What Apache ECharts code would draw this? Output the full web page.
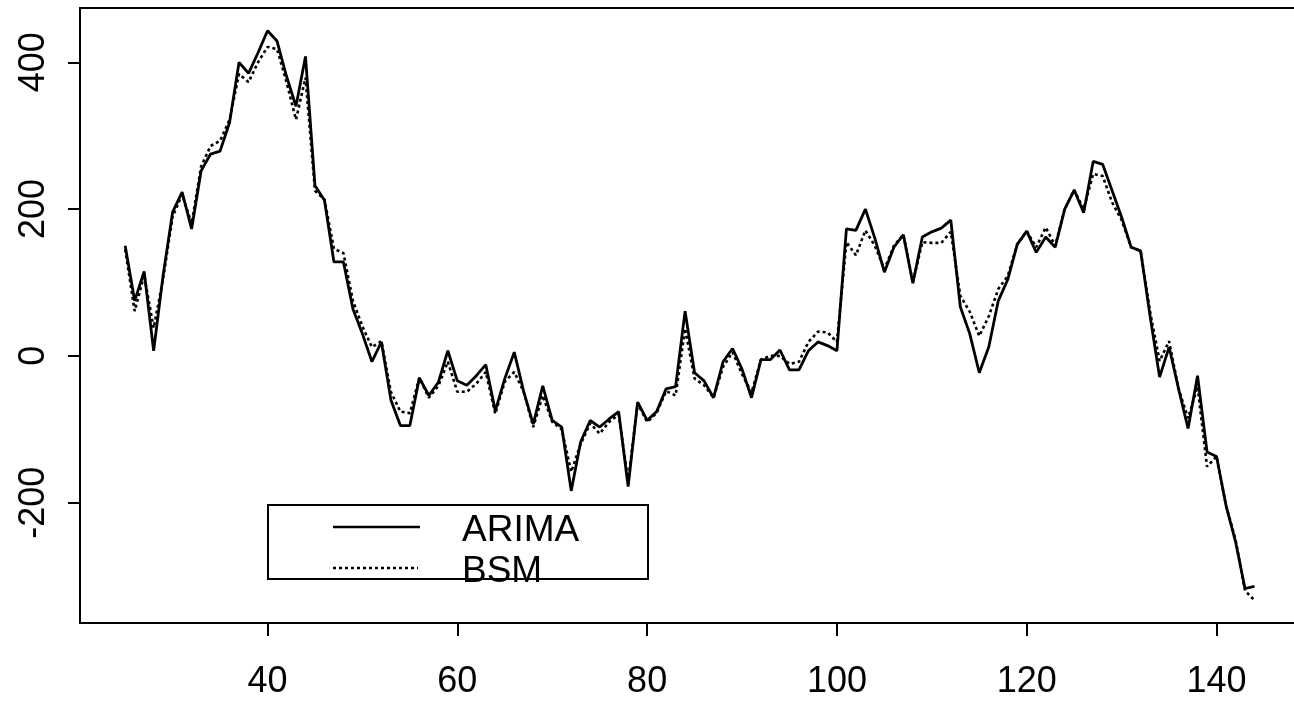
<!DOCTYPE html>
<html>
<head>
<meta charset="utf-8">
<script src="https://cdn.jsdelivr.net/npm/echarts@6/dist/echarts.min.js"></script>
<style>
  html, body { margin: 0; padding: 0; background: #fff; overflow: hidden; }
  #chart { width: 1294px; height: 702px; }
</style>
</head>
<body>
<div id="chart"></div>
<script>
const time = [
  25, 26, 27, 28, 29, 30, 31, 32, 33, 34,
  35, 36, 37, 38, 39, 40, 41, 42, 43, 44,
  45, 46, 47, 48, 49, 50, 51, 52, 53, 54,
  55, 56, 57, 58, 59, 60, 61, 62, 63, 64,
  65, 66, 67, 68, 69, 70, 71, 72, 73, 74,
  75, 76, 77, 78, 79, 80, 81, 82, 83, 84,
  85, 86, 87, 88, 89, 90, 91, 92, 93, 94,
  95, 96, 97, 98, 99, 100, 101, 102, 103, 104,
  105, 106, 107, 108, 109, 110, 111, 112, 113, 114,
  115, 116, 117, 118, 119, 120, 121, 122, 123, 124,
  125, 126, 127, 128, 129, 130, 131, 132, 133, 134,
  135, 136, 137, 138, 139, 140, 141, 142, 143, 144
];
const arima = [
  150, 75, 115, 7, 110, 196, 223, 173, 252, 275,
  279, 318, 400, 385, 413, 443, 429, 381, 340, 408,
  232, 212, 128, 128, 64, 30, -8, 19, -60, -95,
  -95, -30, -54, -36, 7, -34, -40, -27, -12, -75,
  -31, 5, -49, -93, -41, -88, -97, -184, -117, -88,
  -97, -86, -76, -178, -63, -88, -76, -45, -42, 61,
  -23, -34, -57, -8, 10, -18, -57, -5, -5, 8,
  -19, -19, 7, 19, 14, 7, 173, 171, 200, 160,
  114, 148, 165, 99, 162, 169, 174, 185, 67, 30,
  -23, 12, 75, 104, 152, 170, 141, 162, 148, 200,
  226, 195, 265, 261, 225, 189, 148, 143, 54, -29,
  12, -45, -99, -27, -131, -137, -204, -253, -317, -314
];
const bsm = [
  145, 61, 110, 38, 105, 190, 220, 180, 258, 286,
  293, 322, 384, 373, 400, 421, 418, 373, 322, 379,
  225, 213, 146, 140, 75, 40, 12, 20, -49, -76,
  -78, -30, -57, -41, -8, -49, -49, -38, -22, -79,
  -35, -22, -49, -97, -54, -90, -100, -158, -120, -92,
  -106, -90, -80, -170, -65, -90, -78, -48, -54, 37,
  -31, -40, -57, -15, 5, -25, -50, -5, 0, 0,
  -11, -8, 19, 33, 32, 19, 155, 137, 171, 150,
  118, 150, 165, 100, 155, 154, 154, 169, 82, 60,
  27, 54, 91, 109, 152, 170, 148, 175, 150, 200,
  226, 200, 248, 245, 209, 185, 148, 143, 60, -7,
  20, -45, -85, -42, -151, -137, -204, -250, -320, -333
];
const xTicks = [40, 60, 80, 100, 120, 140];
const yTicks = [-200, 0, 200, 400];
const seriesNames = ['ARIMA', 'BSM'];

const FONT = 'Liberation Sans';
const pairs = (ys) => time.map((t, i) => [t, ys[i]]);

const chart = echarts.init(document.getElementById('chart'), null, { renderer: 'canvas' });
chart.setOption({
  animation: false,
  backgroundColor: '#ffffff',
  grid: { left: 80, top: 8, bottom: 79, right: -20, show: true, borderWidth: 2, borderColor: '#000',
          outerBoundsMode: 'none', containLabel: false },
  xAxis: {
    type: 'value', min: 20.24, max: 150.27,
    axisLine: { show: true, onZero: false, lineStyle: { color: '#000', width: 2 } },
    axisTick: { show: true, customValues: xTicks, length: 13, lineStyle: { color: '#000', width: 2 } },
    axisLabel: { customValues: xTicks, color: '#000', fontSize: 36, fontFamily: FONT, margin: 41 },
    splitLine: { show: false }
  },
  yAxis: {
    type: 'value', min: -364, max: 474,
    axisLine: { show: true, onZero: false, lineStyle: { color: '#000', width: 2 } },
    axisTick: { show: true, customValues: yTicks, length: 12, lineStyle: { color: '#000', width: 2 } },
    axisLabel: { customValues: yTicks, rotate: 90, color: '#000', fontSize: 36, fontFamily: FONT, margin: 28 },
    splitLine: { show: false }
  },
  series: [
    {
      name: seriesNames[0], type: 'line', data: pairs(arima), symbol: 'none',
      lineStyle: { color: '#000', width: 2.8, type: 'solid' }, z: 3
    },
    {
      name: seriesNames[1], type: 'line', data: pairs(bsm), symbol: 'none',
      lineStyle: { color: '#000', width: 2.6, type: [3, 3] }, z: 2
    }
  ],
  graphic: [
    { type: 'rect', shape: { x: 268, y: 505, width: 380, height: 74 },
      style: { fill: 'none', stroke: '#000', lineWidth: 2 }, z: 10 },
    { type: 'line', shape: { x1: 333, y1: 527, x2: 420, y2: 527 },
      style: { stroke: '#000', lineWidth: 2.5 }, z: 10 },
    { type: 'line', shape: { x1: 333, y1: 568, x2: 418, y2: 568 },
      style: { stroke: '#000', lineWidth: 2.5, lineDash: [3, 3] }, z: 10 },
    { type: 'text', x: 462, y: 531,
      style: { text: seriesNames[0], fill: '#000', font: '37px "Liberation Sans"', verticalAlign: 'middle', align: 'left' }, z: 10 },
    { type: 'text', x: 462, y: 572,
      style: { text: seriesNames[1], fill: '#000', font: '37px "Liberation Sans"', verticalAlign: 'middle', align: 'left' }, z: 10 }
  ]
});
</script>
</body>
</html>
